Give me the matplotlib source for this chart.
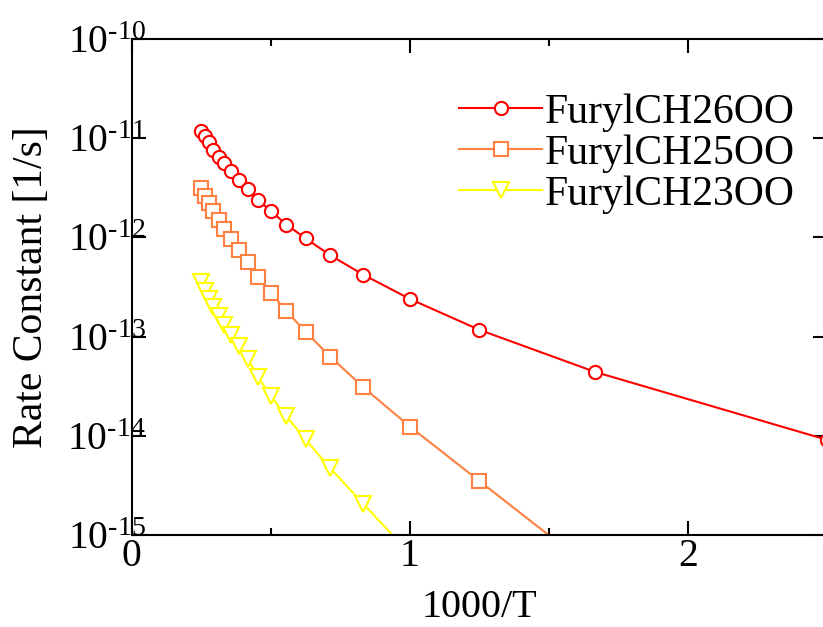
import matplotlib
matplotlib.use('Agg')
import matplotlib.pyplot as plt
from matplotlib.ticker import MultipleLocator, LogLocator, NullLocator, FuncFormatter
import numpy as np

plt.rcParams['font.family'] = ['Liberation Serif', 'DejaVu Serif']
plt.rcParams['mathtext.fontset'] = 'custom'
plt.rcParams['mathtext.rm'] = 'Liberation Serif'
plt.rcParams['mathtext.it'] = 'Liberation Serif:italic'

# temperatures [K] of the computed points
temps_26 = [4000, 3800, 3600, 3400, 3200, 3000, 2800, 2600, 2400, 2200,
            2000, 1800, 1600, 1400, 1200, 1000, 800, 600, 400]
temps_25 = temps_26[:18]
temps_23 = temps_26[:16]

# rate constants [1/s]
k_26 = [1.19e-11, 1.05e-11, 9.2e-12, 7.7e-12, 6.5e-12, 5.6e-12, 4.67e-12,
        3.8e-12, 3.05e-12, 2.38e-12, 1.85e-12, 1.35e-12, 9.8e-13, 6.6e-13,
        4.2e-13, 2.4e-13, 1.17e-13, 4.4e-14, 9.1e-15]
k_25 = [3.13e-12, 2.63e-12, 2.21e-12, 1.85e-12, 1.51e-12, 1.22e-12, 9.6e-13,
        7.5e-13, 5.65e-13, 3.99e-13, 2.77e-13, 1.82e-13, 1.12e-13, 6.27e-14,
        3.08e-14, 1.24e-14, 3.5e-15, 4.3e-16]
k_23 = [3.55e-13, 2.9e-13, 2.41e-13, 1.97e-13, 1.63e-13, 1.3e-13, 1.04e-13,
        8.1e-14, 5.98e-14, 3.92e-14, 2.52e-14, 1.58e-14, 9.2e-15, 4.7e-15,
        2.05e-15, 6.5e-16]

series = [
    ('FurylCH26OO', temps_26, k_26, '#ff0000', 'o', 9.5),
    ('FurylCH25OO', temps_25, k_25, '#ff8040', 's', 9.5),
    ('FurylCH23OO', temps_23, k_23, '#ffff00', 'v', 11),
]


def decade_label(val, pos):
    # 10^-n with a plain hyphen in the exponent
    e = int(round(np.log10(val)))
    sign = r'\text{-}' if e < 0 else ''
    return r'$10^{%s%d}$' % (sign, abs(e))


fig = plt.figure(figsize=(8.23, 6.27), dpi=100)
ax = fig.add_axes([0.160, 0.1467, 0.845, 0.791])

for name, temps, k, color, marker, ms in series:
    x = 1000.0 / np.array(temps, dtype=float)
    ax.plot(x, k, color=color, lw=1.5, marker=marker, ms=ms,
            mfc='white', mec=color, mew=1.5, label=name)

ax.set_yscale('log')
ax.set_xlim(0, 2.5)
ax.set_ylim(1e-15, 1e-10)

ax.xaxis.set_major_locator(MultipleLocator(1))
ax.xaxis.set_minor_locator(MultipleLocator(0.5))
ax.yaxis.set_major_locator(LogLocator(base=10, numticks=10))
ax.yaxis.set_minor_locator(NullLocator())
ax.yaxis.set_major_formatter(FuncFormatter(decade_label))

ax.tick_params(which='both', direction='in', top=True, right=True,
               width=1.5, labelsize=28.5)
ax.tick_params(which='major', length=10)
ax.tick_params(which='minor', length=5)
ax.tick_params(axis='x', pad=2.5)
ax.tick_params(axis='y', pad=-10)
for sp in ax.spines.values():
    sp.set_linewidth(1.5)

ax.set_xlabel('1000/T', fontsize=29, labelpad=10)
ax.set_ylabel('Rate Constant [1/s]', fontsize=30)
ax.yaxis.set_label_coords(-0.116, 0.5)

ax.legend(loc='upper left', bbox_to_anchor=(0.4707, 0.891), frameon=False,
          fontsize=30, handlelength=2.0, handletextpad=0.05,
          labelspacing=0.06, borderpad=0, borderaxespad=0)

fig.savefig('out.png', dpi=100)
